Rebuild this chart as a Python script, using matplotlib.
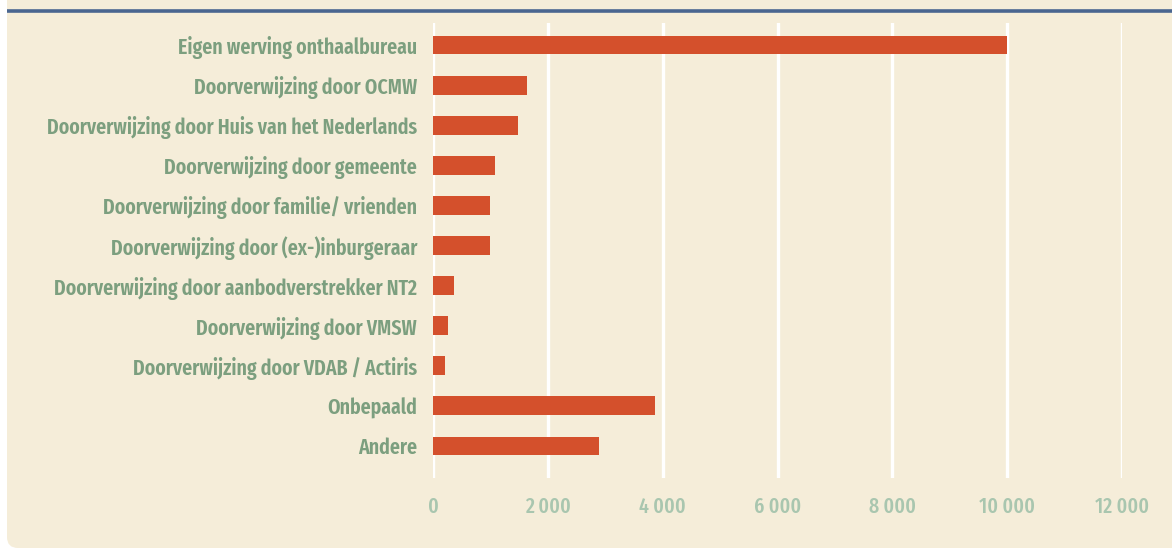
import matplotlib
matplotlib.use("Agg")
import matplotlib.pyplot as plt
from matplotlib.patches import FancyBboxPatch
from matplotlib.ticker import FuncFormatter

categories = [
    "Eigen werving onthaalbureau",
    "Doorverwijzing door OCMW",
    "Doorverwijzing door Huis van het Nederlands",
    "Doorverwijzing door gemeente",
    "Doorverwijzing door familie/ vrienden",
    "Doorverwijzing door (ex-)inburgeraar",
    "Doorverwijzing door aanbodverstrekker NT2",
    "Doorverwijzing door VMSW",
    "Doorverwijzing door VDAB / Actiris",
    "Onbepaald",
    "Andere",
]
values = [10000, 1640, 1480, 1080, 990, 990, 370, 260, 210, 3870, 2890]
xticks = [0, 2000, 4000, 6000, 8000, 10000, 12000]

BG = "#F5EDD9"
BAR = "#D4502C"
LABEL = "#7C9F7F"
TICK = "#A9C6AF"
BLUE = "#4A6690"
FONT = ["Fira Sans Extra Condensed", "DejaVu Sans"]

W, H = 1172, 549
fig = plt.figure(figsize=(W / 100, H / 100), dpi=100)
fig.patch.set_facecolor("white")

# background layer in pixel coordinates
bg = fig.add_axes([0, 0, 1, 1], zorder=-5)
bg.set_xlim(0, W)
bg.set_ylim(H, 0)
bg.axis("off")
bg.add_patch(FancyBboxPatch((7, -40), W + 40, 548 + 40,
                            boxstyle="round,pad=0,rounding_size=11",
                            facecolor=BG, edgecolor="none"))
bg.plot([7, W], [10.5, 10.5], color=BLUE, linewidth=2.6, solid_capstyle="butt")

ax = fig.add_axes([433 / W, 1 - 478 / H, (1122 - 433) / W, (478 - 23) / H], zorder=2)
ax.set_facecolor("none")
ypos = list(range(len(categories)))
ax.barh(ypos, values, height=0.47, color=BAR, zorder=3)
ax.set_xlim(0, 12000)
ax.set_ylim(10.8, -0.55)
ax.set_xticks(xticks)
ax.xaxis.set_major_formatter(FuncFormatter(lambda v, p: f"{int(v):,}".replace(",", " ")))
ax.set_yticks(ypos)
ax.set_yticklabels(categories)
ax.grid(axis="x", color="white", linewidth=2.4, zorder=1)
ax.grid(axis="y", visible=False)
ax.set_axisbelow(True)
for s in ax.spines.values():
    s.set_visible(False)
ax.tick_params(axis="both", length=0)
ax.tick_params(axis="y", pad=11.5, colors=LABEL)
ax.tick_params(axis="x", pad=13, colors=TICK)
for t in ax.get_yticklabels():
    t.set_fontfamily(FONT)
    t.set_fontweight(600)
    t.set_fontsize(15.5)
    t.set_color(LABEL)
for t in ax.get_xticklabels():
    t.set_fontfamily(FONT)
    t.set_fontweight(500)
    t.set_fontsize(15.5)
    t.set_color(TICK)

fig.savefig("out.png", dpi=100, facecolor=fig.get_facecolor())
